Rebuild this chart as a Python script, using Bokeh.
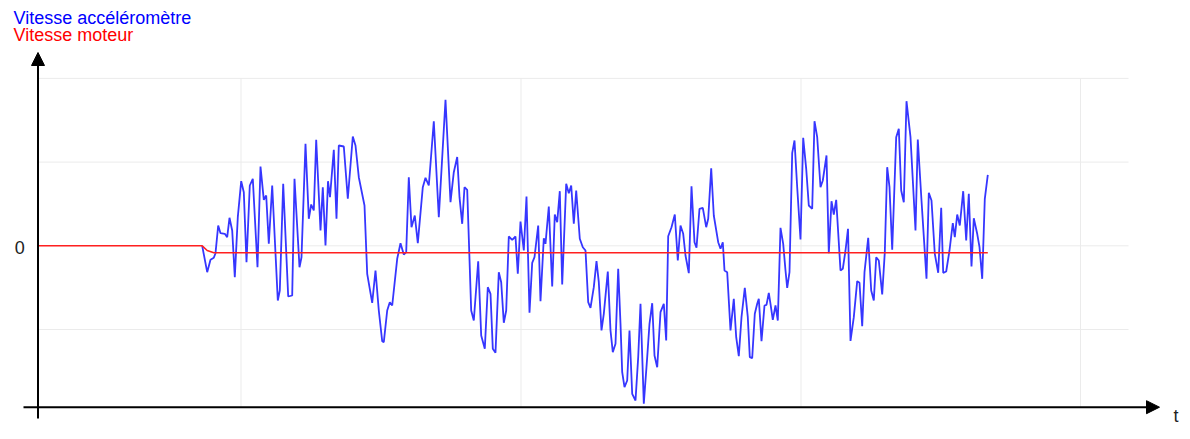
from bokeh.plotting import figure
from bokeh.models import Range1d, Arrow, NormalHead
from bokeh.core.properties import value
from bokeh.embed import file_html
from bokeh.resources import INLINE

# time (arbitrary units, y axis at t=0) and velocity (arbitrary units, 0 = rest)
acc_t = [164.2, 169.2, 172.5, 175.8, 177.5, 180.2, 182.5, 186.8, 189.2, 191.5, 194.2, 196.8, 199.8,
         203.2, 205.8, 208.5, 211.8, 214.8, 219.5, 222.5, 225.8, 228.2, 230.8, 234.2, 239.8, 241.8,
         245.2, 250.2, 254.2, 256.5, 261.5, 263.5, 267.5, 270.8, 273.2, 275.8, 278.2, 282.5, 284.8,
         287.5, 290.0, 292.0, 295.8, 298.5, 300.8, 305.8, 309.8, 314.8, 317.5, 320.8, 326.5, 329.2,
         334.2, 337.5, 340.8, 344.2, 345.8, 349.2, 351.8, 354.2, 359.2, 362.5, 365.8, 368.2, 370.8,
         373.5, 376.8, 379.8, 384.8, 387.5, 390.8, 395.8, 400.8, 407.5, 412.5, 415.8, 419.2, 421.5,
         424.2, 426.5, 429.2, 433.2, 435.8, 440.2, 443.2, 446.8, 449.8, 452.5, 454.8, 457.5, 460.8,
         463.2, 465.8, 468.2, 470.8, 474.2, 477.5, 479.8, 482.5, 485.8, 488.5, 491.5, 494.2, 496.5,
         500.2, 502.5, 505.8, 507.5, 510.8, 514.2, 516.8, 519.2, 521.8, 524.2, 528.2, 530.8, 533.2,
         535.8, 538.2, 541.8, 544.8, 547.5, 550.2, 552.5, 555.8, 558.5, 560.8, 563.5, 565.8, 569.8,
         572.5, 574.8, 577.5, 580.2, 582.5, 584.2, 586.5, 589.2, 591.5, 594.2, 597.5, 600.2, 602.5,
         605.8, 609.2, 611.5, 614.2, 616.5, 619.2, 622.5, 625.8, 628.2, 630.2, 633.5, 636.8, 639.8,
         642.5, 645.2, 647.5, 650.8, 653.5, 656.5, 658.5, 661.5, 664.8, 668.2, 670.2, 673.2, 675.8,
         680.2, 682.5, 684.8, 686.5, 689.2, 692.5, 695.8, 698.2, 700.8, 703.5, 706.8, 709.8, 711.8,
         714.2, 716.8, 719.2, 720.8, 723.5, 726.5, 728.5, 730.8, 732.5, 734.8, 737.5, 739.8, 742.5,
         745.2, 747.5, 749.2, 751.5, 754.2, 756.5, 759.2, 762.5, 765.2, 768.2, 770.8, 774.2, 776.5,
         779.2, 782.5, 784.8, 788.5, 790.8, 793.5, 795.8, 798.2, 802.5, 804.8, 807.5, 810.0, 812.5,
         815.8, 819.2, 821.5, 824.2, 826.5, 830.2, 833.2, 835.8, 838.2, 840.8, 844.2, 846.8, 849.2,
         851.5, 854.2, 858.2, 860.8, 863.2, 865.8, 868.5, 872.5, 877.5, 879.8, 883.5, 888.5, 890.8,
         893.5, 896.8, 900.2, 903.2, 905.2, 908.2, 911.5, 914.8, 916.8, 919.2, 921.8, 925.2, 928.2,
         930.8, 933.5, 935.8, 939.2, 941.5, 944.2, 946.8, 949.8]
acc_v = [0, -26.4, -14, -12, -7.4, 20.3, 12.6, 12, 8.6, 28, 15.3, -31.4, 28.6,
         64.6, 53.6, -16.4, 60.3, 67, -21.4, 79.3, 46, 50.3, 2, 60.3, -54.7, -44.7,
         62, -50.7, -49.7, 67, -21.4, -11.4, 102, 27, 41.3, 35.3, 106, 15.3, 58.6,
         0.3, 64.6, 48.6, 96, 27, 100.3, 99.3, 47, 109.3, 100.3, 68.6, 40.3, -28,
         -57, -24.7, -64.7, -95.4, -96.4, -64.7, -56.4, -59.7, -13, 2.6, -8.7, -6.4, 68.6,
         18.6, 30.3, 2.6, 58.6, 68, 60.3, 124.6, 28.6, 146, 43.6, 73.6, 88.8, 48.6,
         22, 58.6, 56, -64.7, -74.7, -15.4, -89.7, -103, -41.4, -48, -103, -107, -26.4,
         -36.4, -77, -64.7, 9.3, 6, 9.3, -28, 24.3, -4.7, 49.3, -67, -17, -11.4,
         20.3, -55.4, 7.6, 2, 39.3, -40.7, 31.3, 23.6, 54.6, -38.7, 62, 52.6, 60.3,
         22, 55.3, 7, -1.4, -4.7, -56.4, -62, -41.4, -15.4, -36.4, -84.7, -68, -25.7,
         -84.7, -106.4, -98, -23, -78, -126.4, -141.4, -134.7, -84.7, -148, -154.7, -111.4, -58,
         -158, -111.4, -78, -57.4, -109.7, -121.4, -66.4, -58, -94.7, 9.6, 18.6, 31.3, -14.7,
         20.3, 12, -9.7, -27.4, 59.6, 3.6, -2, 37, 38, 18.6, 27, 77.6, 30.3,
         3.6, -3, 3.6, -24.7, -26.4, -84.7, -53, -91.4, -110.4, -71.4, -42, -71.4, -111.4,
         -112.4, -68, -58, -53, -95.4, -59.7, -59, -47, -58, -74, -59.7, -74.7, 18,
         2, -24.7, -42, -26.4, 92.6, 105.3, 58.6, 6.3, 108, 77, 40.3, 37, 124.6,
         108.6, 58.6, 65.3, 90.3, -7.4, 44.6, 31.3, 46, -24.7, -23, -4.7, 17, -95.2,
         -71.4, -35.4, -37, -80.4, -26.4, 8, -44.7, -54.7, -11.4, -14.7, -48.7, -6.4, 78.6,
         58.6, -4, 108.6, 117, 55.3, 43.6, 144.6, 108.6, 15.3, 106.3, 45.3, -33, 53,
         45.3, -8, -27, 38, -27, -25.7, -4.7, 22.6, 8.6, 31.3, 20.3, 54.6, 5.3,
         52, -20.7, 27.6, 12, -1.4, -33, 47, 71]

mot_t = [0, 164.2, 169.2, 175.8, 949.8]
mot_v = [0, 0, -4.7, -7.0, -7.0]

labels = ["Vitesse accéléromètre", "Vitesse moteur"]
label_colors = ["#0000ff", "#ff0000"]

# decoration geometry
grid_t = [203, 483, 763, 1042.5]
grid_v = [167.4, 83.7, 0, -83.7]
grid_right = 1090.5
axis_v = -161.4

FONT = value("Liberation Sans")

p = figure(width=1182, height=431, x_range=Range1d(-37.5, 1144.5), y_range=Range1d(-185.7, 245.3),
           output_backend="svg", toolbar_location=None, min_border=0,
           x_axis_location=None, y_axis_location=None)
p.grid.visible = False
p.outline_line_color = None
p.background_fill_color = "white"

# grid
p.segment(x0=[0] * len(grid_v), x1=[grid_right] * len(grid_v), y0=grid_v, y1=grid_v,
          line_color="#ebebeb", line_width=1)
p.segment(x0=grid_t, x1=grid_t, y0=[axis_v] * len(grid_t), y1=[grid_v[0]] * len(grid_t),
          line_color="#ebebeb", line_width=1)

# axes with arrows
p.add_layout(Arrow(end=NormalHead(size=13, fill_color="black", line_color="black", line_width=1),
                   x_start=0, y_start=-172.7, x_end=0, y_end=193.3,
                   line_color="black", line_width=2))
p.add_layout(Arrow(end=NormalHead(size=13, fill_color="black", line_color="black", line_width=1),
                   x_start=-14.5, y_start=axis_v, x_end=1121.5, y_end=axis_v,
                   line_color="black", line_width=2))

# series
p.line(acc_t, acc_v, line_color="#3636ff", line_width=1.8)
p.line(mot_t, mot_v, line_color="#ff2020", line_width=1.6)

# texts
p.text(x=[-24.5, -24.5], y=[228.0, 210.5], text=labels, text_color=label_colors,
       text_font=FONT, text_font_size="18px", text_baseline="alphabetic", text_align="left")
p.text(x=[-13.2], y=[-1.7], text=["0"], text_color="#222222", text_font=FONT,
       text_font_size="18px", text_baseline="alphabetic", text_align="right")
p.text(x=[1135.5], y=[-169.7], text=["t"], text_color="#222222", text_font=FONT,
       text_font_size="18px", text_baseline="alphabetic", text_align="left")

open("out.html", "w").write(file_html(p, INLINE))
